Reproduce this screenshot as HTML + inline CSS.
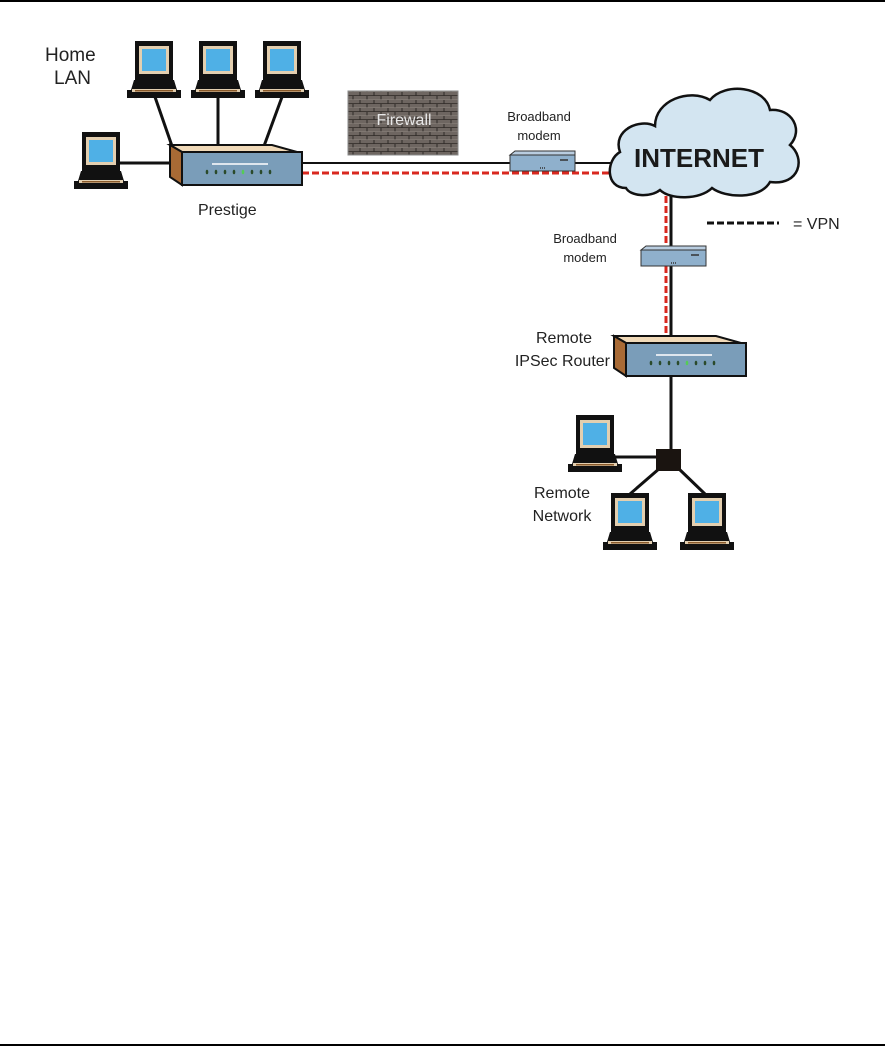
<!DOCTYPE html>
<html><head><meta charset="utf-8"><style>
html,body{margin:0;padding:0;background:#fff;}
svg{display:block;}
text{font-family:"Liberation Sans",Arial,sans-serif;fill:#222;}
</style></head><body>
<svg width="885" height="1047" viewBox="0 0 885 1047" xmlns="http://www.w3.org/2000/svg">
<defs>
  <pattern id="brick" width="14" height="8" patternUnits="userSpaceOnUse">
    <rect width="14" height="8" fill="#6e6661"/>
    <line x1="0" y1="7.5" x2="14" y2="7.5" stroke="#3e3834" stroke-width="1"/>
    <line x1="3" y1="0" x2="3" y2="4" stroke="#2e2a27" stroke-width="1"/>
    <line x1="10" y1="4" x2="10" y2="8" stroke="#2e2a27" stroke-width="1"/>
    <line x1="0" y1="3.5" x2="14" y2="3.5" stroke="#8a827c" stroke-width="0.6"/>
  </pattern>
  <g id="pc">
    <rect x="0" y="0" width="38" height="39" fill="#111"/>
    <rect x="4" y="5" width="30" height="28" fill="#e3cfb0"/>
    <rect x="7" y="8" width="24" height="22" fill="#4fb0e6"/>
    <path d="M-1 39 H39 L42 49 L46 49 L46 57 L-8 57 L-8 49 L-4 49 Z" fill="#111"/>
    <rect x="-3" y="48" width="44" height="3" fill="#e3cfb0"/>
    <rect x="0" y="49" width="38" height="1.5" fill="#8a5a2a"/>
  </g>
  <g id="router">
    <polygon points="0,2 102,2 127,9 12,9" fill="#f0d9b8" stroke="#111" stroke-width="2"/>
    <polygon points="0,2 12,9 12,42 0,34" fill="#a86a35" stroke="#111" stroke-width="2"/>
    <rect x="12" y="9" width="120" height="33" fill="#7a9db9" stroke="#111" stroke-width="2"/>
    <line x1="42" y1="21" x2="98" y2="21" stroke="#fff" stroke-width="1.5"/>
    <g fill="#2a4a2a">
      <ellipse cx="37" cy="29" rx="1.3" ry="2.3"/><ellipse cx="46" cy="29" rx="1.3" ry="2.3"/>
      <ellipse cx="55" cy="29" rx="1.3" ry="2.3"/><ellipse cx="64" cy="29" rx="1.3" ry="2.3"/>
      <ellipse cx="73" cy="29" rx="1.3" ry="2.3" fill="#5c5"/><ellipse cx="82" cy="29" rx="1.3" ry="2.3"/>
      <ellipse cx="91" cy="29" rx="1.3" ry="2.3"/><ellipse cx="100" cy="29" rx="1.3" ry="2.3"/>
    </g>
  </g>
  <g id="modem">
    <polygon points="0,4 5,0 65,0 65,4" fill="#b9cde0" stroke="#333" stroke-width="1"/>
    <rect x="0" y="4" width="65" height="16" fill="#8fb0cc" stroke="#333" stroke-width="1"/>
    <line x1="50" y1="9" x2="58" y2="9" stroke="#333" stroke-width="1.5"/>
    <line x1="30" y1="17" x2="36" y2="17" stroke="#333" stroke-width="1.5" stroke-dasharray="1,1"/>
  </g>
</defs>

<line x1="0" y1="1" x2="885" y2="1" stroke="#000" stroke-width="2"/>
<line x1="0" y1="1045" x2="885" y2="1045" stroke="#000" stroke-width="2"/>

<!-- Home LAN connections -->
<g stroke="#111" stroke-width="3">
  <line x1="155" y1="97" x2="172" y2="146"/>
  <line x1="218" y1="97" x2="218" y2="146"/>
  <line x1="282" y1="97" x2="264" y2="146"/>
  <line x1="118" y1="163" x2="172" y2="163"/>
</g>
<line x1="300" y1="163" x2="612" y2="163" stroke="#111" stroke-width="2"/>
<line x1="302" y1="173" x2="612" y2="173" stroke="#d9281f" stroke-width="3" stroke-dasharray="7,3"/>

<use href="#pc" x="135" y="41"/>
<use href="#pc" x="199" y="41"/>
<use href="#pc" x="263" y="41"/>
<use href="#pc" x="82" y="132"/>
<use href="#router" x="170" y="143"/>

<text x="45" y="61" font-size="19">Home</text>
<text x="54" y="84" font-size="19">LAN</text>
<text x="198" y="215" font-size="16">Prestige</text>

<!-- Firewall -->
<rect x="348" y="91" width="110" height="64" fill="url(#brick)" stroke="#888" stroke-width="1"/>
<text x="404" y="125" font-size="16" text-anchor="middle" style="fill:#e8e8e8">Firewall</text>

<!-- modem 1 -->
<use href="#modem" x="510" y="151"/>
<text x="539" y="121" font-size="13" text-anchor="middle">Broadband</text>
<text x="539" y="140" font-size="13" text-anchor="middle">modem</text>

<!-- vertical lines -->
<line x1="671" y1="190" x2="671" y2="457" stroke="#111" stroke-width="3"/>
<line x1="666" y1="196" x2="666" y2="336" stroke="#d9281f" stroke-width="3" stroke-dasharray="7,3"/>

<!-- Cloud -->
<path d="M626 188 C605 188 606 160 620 152 C612 130 640 118 655 126 C655 100 690 88 710 100 C725 82 765 86 770 110 C792 108 804 130 790 145 C806 158 800 186 770 182 C760 200 725 198 712 188 C700 200 670 200 660 190 C650 198 630 196 626 188 Z" fill="#d3e5f1" stroke="#111" stroke-width="2.5"/>
<text x="699" y="167" font-size="26" font-weight="bold" text-anchor="middle" style="fill:#1a1a1a">INTERNET</text>

<!-- legend -->
<line x1="707" y1="223" x2="779" y2="223" stroke="#111" stroke-width="3" stroke-dasharray="7,3"/>
<text x="793" y="229" font-size="16">= VPN</text>
<rect x="843" y="210" width="42" height="30" fill="#fff"/>

<!-- modem 2 -->
<use href="#modem" x="641" y="246"/>
<text x="585" y="243" font-size="13" text-anchor="middle">Broadband</text>
<text x="585" y="262" font-size="13" text-anchor="middle">modem</text>

<!-- remote router -->
<use href="#router" x="614" y="334"/>
<text x="564" y="343" font-size="16" text-anchor="middle">Remote</text>
<text x="610" y="366" font-size="16" text-anchor="end">IPSec Router</text>

<!-- remote network -->
<g stroke="#111" stroke-width="3">
  <line x1="612" y1="457" x2="660" y2="457"/>
  <line x1="660" y1="468" x2="630" y2="494"/>
  <line x1="678" y1="468" x2="705" y2="494"/>
</g>
<rect x="656" y="449" width="25" height="22" fill="#1a1410"/>
<use href="#pc" x="576" y="415"/>
<use href="#pc" x="611" y="493"/>
<use href="#pc" x="688" y="493"/>
<text x="562" y="498" font-size="16" text-anchor="middle">Remote</text>
<text x="562" y="521" font-size="16" text-anchor="middle">Network</text>
</svg>
</body></html>
